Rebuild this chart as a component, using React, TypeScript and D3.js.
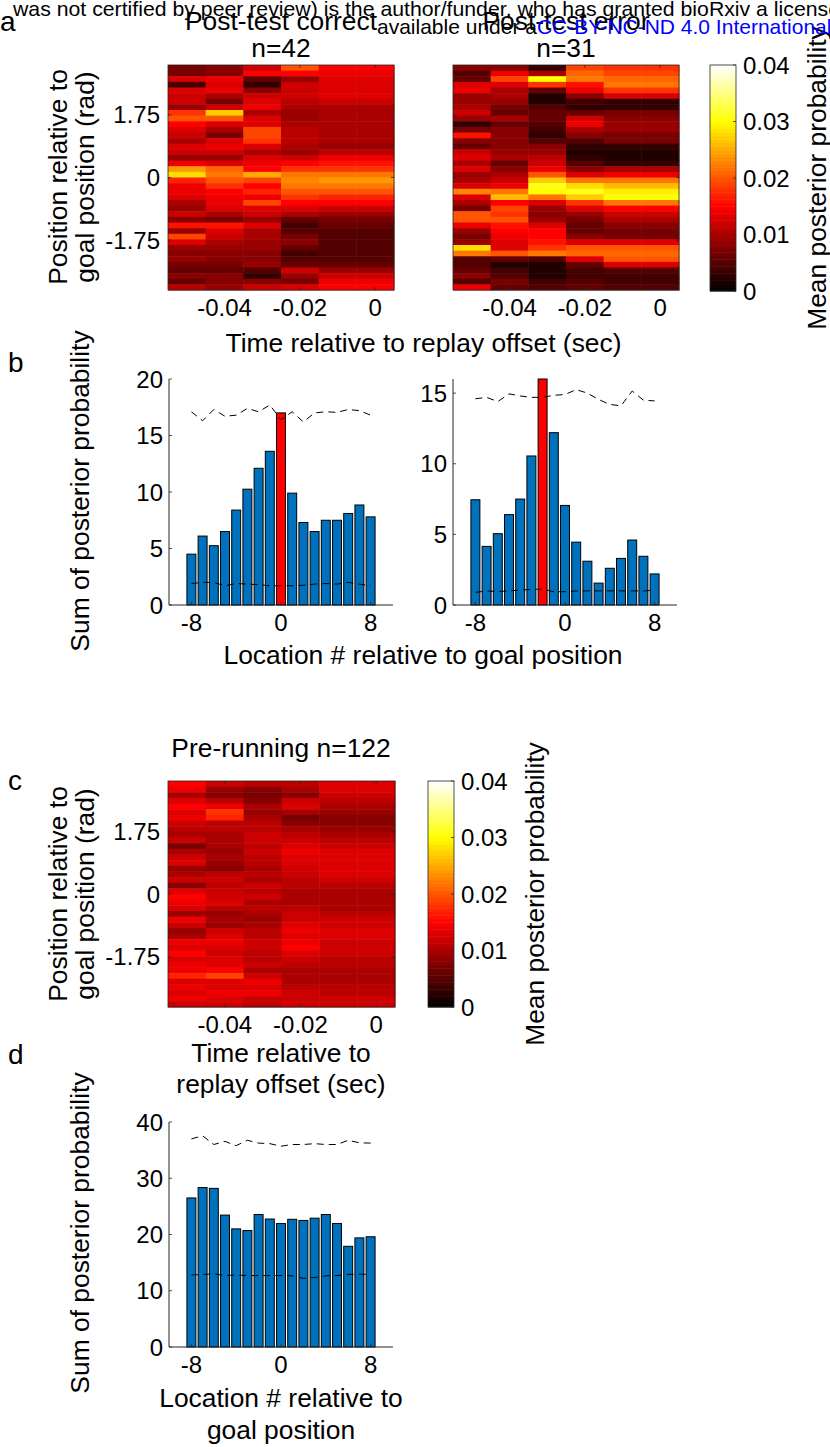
import React from "react";
import * as d3 from "d3";

// ---------- DATA ----------
// heat-map values are in units of 0.001 (mean posterior probability), rows top (+pi) to bottom (-pi)
const UNIT = 0.001;
const timeBins = [-0.05, -0.04, -0.03, -0.02, -0.01, 0];
const timeTicks = [-0.04, -0.02, 0];
const positionTicks = [1.75, 0, -1.75];
const colorbarTicks = [0, 0.01, 0.02, 0.03, 0.04];

const correctMap = [
  [7, 7, 13, 4, 13, 12, 12, 9, 18, 20, 15, 13, 12, 10, 13, 12, 9, 14, 24, 28, 17, 14, 14, 13, 10, 9, 12, 8, 16, 9, 19, 13, 9, 8, 9, 7, 6, 8, 6, 11],
  [8, 8, 14, 13, 14, 10, 7, 12, 27, 20, 13, 10, 7, 13, 14, 12, 9, 13, 21, 22, 20, 18, 15, 14, 14, 13, 10, 7, 16, 13, 12, 10, 9, 8, 8, 7, 6, 8, 8, 9],
  [12, 15, 6, 3, 8, 12, 13, 14, 10, 13, 13, 19, 19, 18, 13, 10, 13, 14, 15, 25, 19, 15, 17, 14, 19, 13, 12, 9, 13, 10, 10, 9, 9, 8, 8, 9, 5, 3, 8, 12],
  [20, 15, 9, 12, 12, 12, 11, 10, 9, 9, 10, 11, 11, 11, 10, 9, 12, 15, 18, 22, 23, 22, 20, 18, 15, 13, 10, 6, 4, 5, 7, 8, 6, 4, 5, 6, 12, 9, 7, 13],
  [15, 14, 13, 13, 13, 13, 12, 10, 10, 10, 10, 10, 10, 10, 9, 11, 14, 16, 18, 22, 24, 22, 20, 17, 15, 12, 9, 7, 6, 5, 5, 5, 5, 5, 5, 6, 9, 12, 14, 15],
  [15, 14, 13, 13, 13, 13, 12, 10, 10, 10, 10, 10, 10, 10, 9, 11, 14, 16, 18, 22, 24, 22, 20, 17, 15, 12, 9, 7, 6, 5, 5, 5, 5, 5, 5, 6, 9, 12, 14, 15],
];

const errorMap = [
  [8, 5, 6, 13, 14, 9, 9, 10, 12, 9, 3, 7, 16, 8, 6, 12, 13, 10, 13, 9, 10, 13, 23, 13, 10, 7, 20, 20, 14, 9, 7, 9, 28, 22, 5, 5, 6, 8, 5, 14],
  [8, 14, 19, 13, 10, 10, 9, 7, 6, 10, 6, 8, 8, 8, 8, 9, 10, 6, 8, 10, 12, 14, 22, 26, 15, 19, 18, 20, 16, 15, 14, 13, 13, 20, 6, 2, 4, 5, 7, 6],
  [3, 10, 30, 18, 6, 2, 2, 5, 6, 6, 5, 4, 3, 5, 8, 9, 11, 12, 14, 20, 27, 31, 30, 22, 13, 9, 8, 9, 13, 15, 15, 16, 18, 22, 5, 2, 2, 2, 4, 5],
  [19, 21, 22, 16, 14, 8, 4, 3, 6, 12, 14, 10, 8, 5, 3, 2, 3, 5, 8, 13, 22, 28, 31, 27, 18, 13, 9, 7, 6, 6, 8, 13, 20, 21, 13, 6, 4, 4, 5, 6],
  [18, 19, 21, 22, 18, 13, 3, 3, 7, 8, 9, 9, 7, 7, 3, 2, 2, 3, 10, 14, 22, 26, 29, 30, 22, 15, 12, 10, 8, 7, 7, 13, 20, 21, 20, 13, 5, 4, 4, 5],
  [18, 19, 21, 22, 18, 13, 3, 3, 7, 8, 9, 9, 7, 7, 3, 2, 2, 3, 10, 14, 22, 26, 29, 30, 22, 15, 12, 10, 8, 7, 7, 13, 20, 21, 20, 13, 5, 4, 4, 5],
];

const preMap = [
  [15, 14, 10, 13, 15, 13, 14, 12, 11, 10, 12, 7, 10, 12, 13, 9, 10, 12, 8, 13, 15, 14, 13, 9, 14, 12, 9, 10, 14, 13, 15, 13, 14, 14, 17, 13, 14, 13, 14, 12],
  [12, 9, 8, 11, 14, 18, 17, 11, 11, 10, 10, 10, 9, 10, 9, 8, 11, 12, 11, 12, 12, 13, 11, 9, 10, 9, 12, 13, 14, 13, 12, 13, 13, 15, 19, 13, 13, 14, 13, 12],
  [11, 8, 7, 8, 10, 9, 10, 11, 11, 12, 12, 11, 12, 11, 11, 10, 11, 10, 12, 11, 12, 10, 11, 10, 9, 10, 11, 11, 12, 12, 11, 11, 12, 10, 12, 14, 13, 14, 12, 11],
  [11, 10, 8, 12, 13, 10, 7, 8, 10, 11, 12, 13, 14, 13, 13, 12, 12, 11, 11, 10, 10, 10, 11, 12, 12, 13, 14, 13, 14, 15, 13, 12, 11, 10, 10, 10, 11, 12, 12, 12],
  [13, 13, 12, 11, 10, 9, 8, 8, 9, 10, 11, 12, 13, 13, 13, 13, 13, 12, 11, 10, 10, 10, 10, 11, 12, 12, 13, 13, 12, 12, 12, 11, 11, 10, 10, 10, 11, 11, 12, 12],
  [13, 13, 12, 11, 10, 9, 8, 8, 9, 10, 11, 12, 13, 13, 13, 13, 13, 12, 11, 10, 10, 10, 10, 11, 12, 12, 13, 13, 12, 12, 12, 11, 11, 10, 10, 10, 11, 11, 12, 12],
];

const locations = [-8, -7, -6, -5, -4, -3, -2, -1, 0, 1, 2, 3, 4, 5, 6, 7, 8];
const locationTicks = [-8, 0, 8];

const correctSums = [4.5, 6.1, 5.25, 6.5, 8.4, 10.25, 12.1, 13.6, 17.0, 9.9, 7.3, 6.5, 7.5, 7.5, 8.1, 8.85, 7.8];
const correctUpper = [17.1, 16.3, 17.3, 16.7, 16.8, 17.4, 17.1, 17.7, 16.4, 17.1, 16.2, 17.0, 17.1, 17.05, 17.3, 17.2, 16.8];
const correctLower = [1.9, 2.0, 2.0, 1.7, 1.9, 1.85, 1.8, 1.7, 1.7, 1.7, 1.75, 1.85, 1.9, 1.85, 2.0, 1.85, 1.7];
const correctGoal = 0;

const errorSums = [7.45, 4.15, 5.05, 6.4, 7.5, 10.55, 16.0, 12.2, 7.05, 4.45, 3.1, 1.55, 2.6, 3.3, 4.6, 3.45, 2.2];
const errorUpper = [14.6, 14.7, 14.4, 14.95, 14.8, 14.7, 14.7, 14.85, 14.9, 15.25, 15.0, 14.55, 14.2, 14.1, 15.15, 14.5, 14.45];
const errorLower = [0.9, 0.99, 0.96, 0.99, 1.06, 1.1, 1.13, 0.94, 0.94, 0.99, 1.0, 1.0, 1.0, 1.0, 1.0, 0.99, 1.06];
const errorGoal = -2;

const preSums = [26.5, 28.35, 28.2, 23.45, 21.0, 20.7, 23.55, 22.75, 21.95, 22.7, 22.5, 22.9, 23.55, 21.95, 17.9, 19.4, 19.6];
const preUpper = [37.0, 37.55, 36.0, 36.55, 35.8, 36.75, 36.25, 36.15, 35.7, 36.0, 36.0, 36.15, 36.0, 36.0, 36.75, 36.3, 36.25];
const preLower = [12.8, 12.9, 13.0, 12.7, 12.8, 12.7, 12.7, 12.7, 12.7, 12.65, 12.2, 12.35, 12.65, 12.7, 12.9, 12.95, 12.9];

// ---------- STYLE ----------
const FONT = "'Liberation Sans', Arial, Helvetica, sans-serif";
const TICK_FS = 24;
const LABEL_FS = 26.4;
const AXIS_COLOR = "#262626";
const BAR_BLUE = "#0072BD";
const BAR_RED = "#FF0000";

function hot(t: number): string {
  const c = (v: number) => Math.max(0, Math.min(1, v));
  const r = c(t / 0.375);
  const g = c((t - 0.375) / 0.375);
  const b = c((t - 0.75) / 0.25);
  return d3.rgb(r * 255, g * 255, b * 255).toString();
}
const colorScale = (v: number) => hot(d3.scaleLinear().domain([0, 0.04]).range([0, 1]).clamp(true)(v));

const fmtTime = (v: number) => (v === 0 ? "0" : String(v).replace("−", "-"));
const fmtPos = (v: number) => (v === 0 ? "0" : v.toFixed(2));

type HMProps = { x0: number; y0: number; w: number; h: number; data: number[][]; yLabels: boolean };

function Heatmap({ x0, y0, w, h, data, yLabels }: HMProps) {
  const x = d3.scaleLinear().domain([-0.055, 0.005]).range([x0, x0 + w]);
  const y = d3.scaleLinear().domain([-Math.PI, Math.PI]).range([y0 + h, y0]);
  const rows = d3.scaleBand<number>().domain(d3.range(data[0].length)).range([y0, y0 + h]);
  const tl = 3;
  return (
    <g>
      {data.map((col, ci) =>
        col.map((v, ri) => (
          <rect
            key={ci + "-" + ri}
            x={x(timeBins[ci] - 0.005)}
            y={rows(ri)!}
            width={x(timeBins[ci] + 0.005) - x(timeBins[ci] - 0.005) + 0.5}
            height={rows.bandwidth() + 0.5}
            fill={colorScale(v * UNIT)}
          />
        ))
      )}
      <rect x={x0} y={y0} width={w} height={h} fill="none" stroke={AXIS_COLOR} strokeWidth={0.8} />
      {timeTicks.map((t) => (
        <g key={"t" + t}>
          <line x1={x(t)} x2={x(t)} y1={y0 + h} y2={y0 + h - tl} stroke={AXIS_COLOR} strokeWidth={0.8} />
          <line x1={x(t)} x2={x(t)} y1={y0} y2={y0 + tl} stroke={AXIS_COLOR} strokeWidth={0.8} />
          <text x={x(t)} y={y0 + h + 26} textAnchor="middle" fontSize={TICK_FS} fontFamily={FONT}>
            {fmtTime(t)}
          </text>
        </g>
      ))}
      {positionTicks.map((p) => (
        <g key={"p" + p}>
          <line x1={x0} x2={x0 + tl} y1={y(p)} y2={y(p)} stroke={AXIS_COLOR} strokeWidth={0.8} />
          <line x1={x0 + w} x2={x0 + w - tl} y1={y(p)} y2={y(p)} stroke={AXIS_COLOR} strokeWidth={0.8} />
          {yLabels && (
            <text x={x0 - 8} y={y(p) + 8.5} textAnchor="end" fontSize={TICK_FS} fontFamily={FONT}>
              {fmtPos(p)}
            </text>
          )}
        </g>
      ))}
    </g>
  );
}

function Colorbar({ x0, y0, w, h }: { x0: number; y0: number; w: number; h: number }) {
  const y = d3.scaleLinear().domain([0, 0.04]).range([y0 + h, y0]);
  const steps = d3.range(64);
  return (
    <g>
      {steps.map((i) => {
        const v0 = (i / 64) * 0.04;
        const v1 = ((i + 1) / 64) * 0.04;
        return <rect key={i} x={x0} y={y(v1)} width={w} height={y(v0) - y(v1) + 0.5} fill={hot((i + 0.5) / 64)} />;
      })}
      <rect x={x0} y={y0} width={w} height={h} fill="none" stroke={AXIS_COLOR} strokeWidth={0.8} />
      {colorbarTicks.map((t) => (
        <g key={t}>
          <line x1={x0 + w} x2={x0 + w - 3} y1={y(t)} y2={y(t)} stroke={AXIS_COLOR} strokeWidth={0.8} />
          <text x={x0 + w + 7} y={y(t) + 8.5} fontSize={TICK_FS} fontFamily={FONT}>
            {t === 0 ? "0" : t.toFixed(2)}
          </text>
        </g>
      ))}
    </g>
  );
}

type BarProps = {
  ax: number; by: number; w: number; h: number; yMax: number; yTicks: number[];
  sums: number[]; upper: number[]; lower: number[]; goal: number | null;
};

function BarChart({ ax, by, w, h, yMax, yTicks, sums, upper, lower, goal }: BarProps) {
  const x = d3.scaleLinear().domain([-10, 10]).range([ax, ax + w]);
  const y = d3.scaleLinear().domain([0, yMax]).range([by, by - h]);
  const bw = x(0.4) - x(-0.4);
  const line = d3.line<number>().x((_, i) => x(locations[i])).y((d) => y(d));
  return (
    <g>
      {sums.map((s, i) => (
        <rect
          key={i}
          x={x(locations[i]) - bw / 2}
          y={y(s)}
          width={bw}
          height={by - y(s)}
          fill={locations[i] === goal ? BAR_RED : BAR_BLUE}
          stroke="#000"
          strokeWidth={1}
        />
      ))}
      <path d={line(upper)!} fill="none" stroke="#000" strokeWidth={1} strokeDasharray="7,5" />
      <path d={line(lower)!} fill="none" stroke="#000" strokeWidth={1} strokeDasharray="7,5" />
      <line x1={ax} x2={ax} y1={by} y2={by - h} stroke={AXIS_COLOR} strokeWidth={1} />
      <line x1={ax} x2={ax + w} y1={by} y2={by} stroke={AXIS_COLOR} strokeWidth={1} />
      {yTicks.map((t) => (
        <g key={"y" + t}>
          <line x1={ax} x2={ax + 3} y1={y(t)} y2={y(t)} stroke={AXIS_COLOR} strokeWidth={0.8} />
          <text x={ax - 6} y={y(t) + 8.5} textAnchor="end" fontSize={TICK_FS} fontFamily={FONT}>
            {t}
          </text>
        </g>
      ))}
      {locationTicks.map((t) => (
        <g key={"x" + t}>
          <line x1={x(t)} x2={x(t)} y1={by} y2={by - 3} stroke={AXIS_COLOR} strokeWidth={0.8} />
          <text x={x(t)} y={by + 26} textAnchor="middle" fontSize={TICK_FS} fontFamily={FONT}>
            {t < 0 ? "-" + Math.abs(t) : String(t)}
          </text>
        </g>
      ))}
    </g>
  );
}

function Txt(props: { x: number; y: number; size?: number; anchor?: string; rotate?: boolean; children: React.ReactNode; fill?: string }) {
  const { x, y, size = LABEL_FS, anchor = "middle", rotate = false, children, fill = "#000" } = props;
  return (
    <text
      x={x}
      y={y}
      fontSize={size}
      fontFamily={FONT}
      textAnchor={anchor}
      fill={fill}
      transform={rotate ? `rotate(-90 ${x} ${y})` : undefined}
    >
      {children}
    </text>
  );
}

export default function App() {
  return (
    <svg
      width={830}
      height={1447}
      viewBox="0 0 830 1447"
      style={{ position: "absolute", left: 0, top: 0, background: "#fff" }}
    >
      <rect x={0} y={0} width={830} height={1447} fill="#fff" />

      {/* panel a */}
      <Heatmap x0={168} y0={65} w={226} h={225} data={correctMap} yLabels={true} />
      <Heatmap x0={453} y0={65} w={226} h={225} data={errorMap} yLabels={false} />
      <Colorbar x0={710} y0={65} w={26} h={226} />
      <Txt x={281} y={30}>Post-test correct</Txt>
      <Txt x={281} y={57}>n=42</Txt>
      <Txt x={566} y={30}>Post-test error</Txt>
      <Txt x={566} y={57}>n=31</Txt>
      <Txt x={826} y={178} rotate>Mean posterior probability</Txt>
      <Txt x={67} y={177} rotate>Position relative to</Txt>
      <Txt x={94} y={177} rotate>goal position (rad)</Txt>
      <Txt x={423.5} y={352}>Time relative to replay offset (sec)</Txt>

      {/* header (overlapping page text) */}
      <text x={13} y={16} fontSize={21} fontFamily={FONT} textLength={827} lengthAdjust="spacingAndGlyphs">
        was not certified by peer review) is the author/funder, who has granted bioRxiv a license
      </text>
      <text x={377} y={34} fontSize={21} fontFamily={FONT}>
        available under a<tspan fill="#0000FF">CC-BY-NC-ND 4.0 International license</tspan>
      </text>
      <Txt x={0} y={31} anchor="start" size={28}>a</Txt>

      {/* panel b */}
      <Txt x={8} y={372} anchor="start" size={28}>b</Txt>
      <BarChart ax={169} by={605} w={224} h={226} yMax={20} yTicks={[0, 5, 10, 15, 20]}
        sums={correctSums} upper={correctUpper} lower={correctLower} goal={correctGoal} />
      <BarChart ax={453} by={605} w={224} h={226} yMax={16} yTicks={[0, 5, 10, 15]}
        sums={errorSums} upper={errorUpper} lower={errorLower} goal={errorGoal} />
      <Txt x={89} y={491} rotate>Sum of posterior probability</Txt>
      <Txt x={423} y={664}>Location # relative to goal position</Txt>

      {/* panel c */}
      <Txt x={8} y={790} anchor="start" size={28}>c</Txt>
      <Txt x={281} y={757}>Pre-running n=122</Txt>
      <Heatmap x0={168} y0={781} w={227} h={226} data={preMap} yLabels={true} />
      <Colorbar x0={428} y0={781} w={26} h={226} />
      <Txt x={544} y={894} rotate>Mean posterior probability</Txt>
      <Txt x={67} y={894} rotate>Position relative to</Txt>
      <Txt x={94} y={894} rotate>goal position (rad)</Txt>
      <Txt x={281} y={1062}>Time relative to</Txt>
      <Txt x={281} y={1093}>replay offset (sec)</Txt>

      {/* panel d */}
      <Txt x={8} y={1064} anchor="start" size={28}>d</Txt>
      <BarChart ax={169} by={1347} w={224} h={225} yMax={40} yTicks={[0, 10, 20, 30, 40]}
        sums={preSums} upper={preUpper} lower={preLower} goal={null} />
      <Txt x={89} y={1233} rotate>Sum of posterior probability</Txt>
      <Txt x={281} y={1407}>Location # relative to</Txt>
      <Txt x={281} y={1439}>goal position</Txt>
    </svg>
  );
}
